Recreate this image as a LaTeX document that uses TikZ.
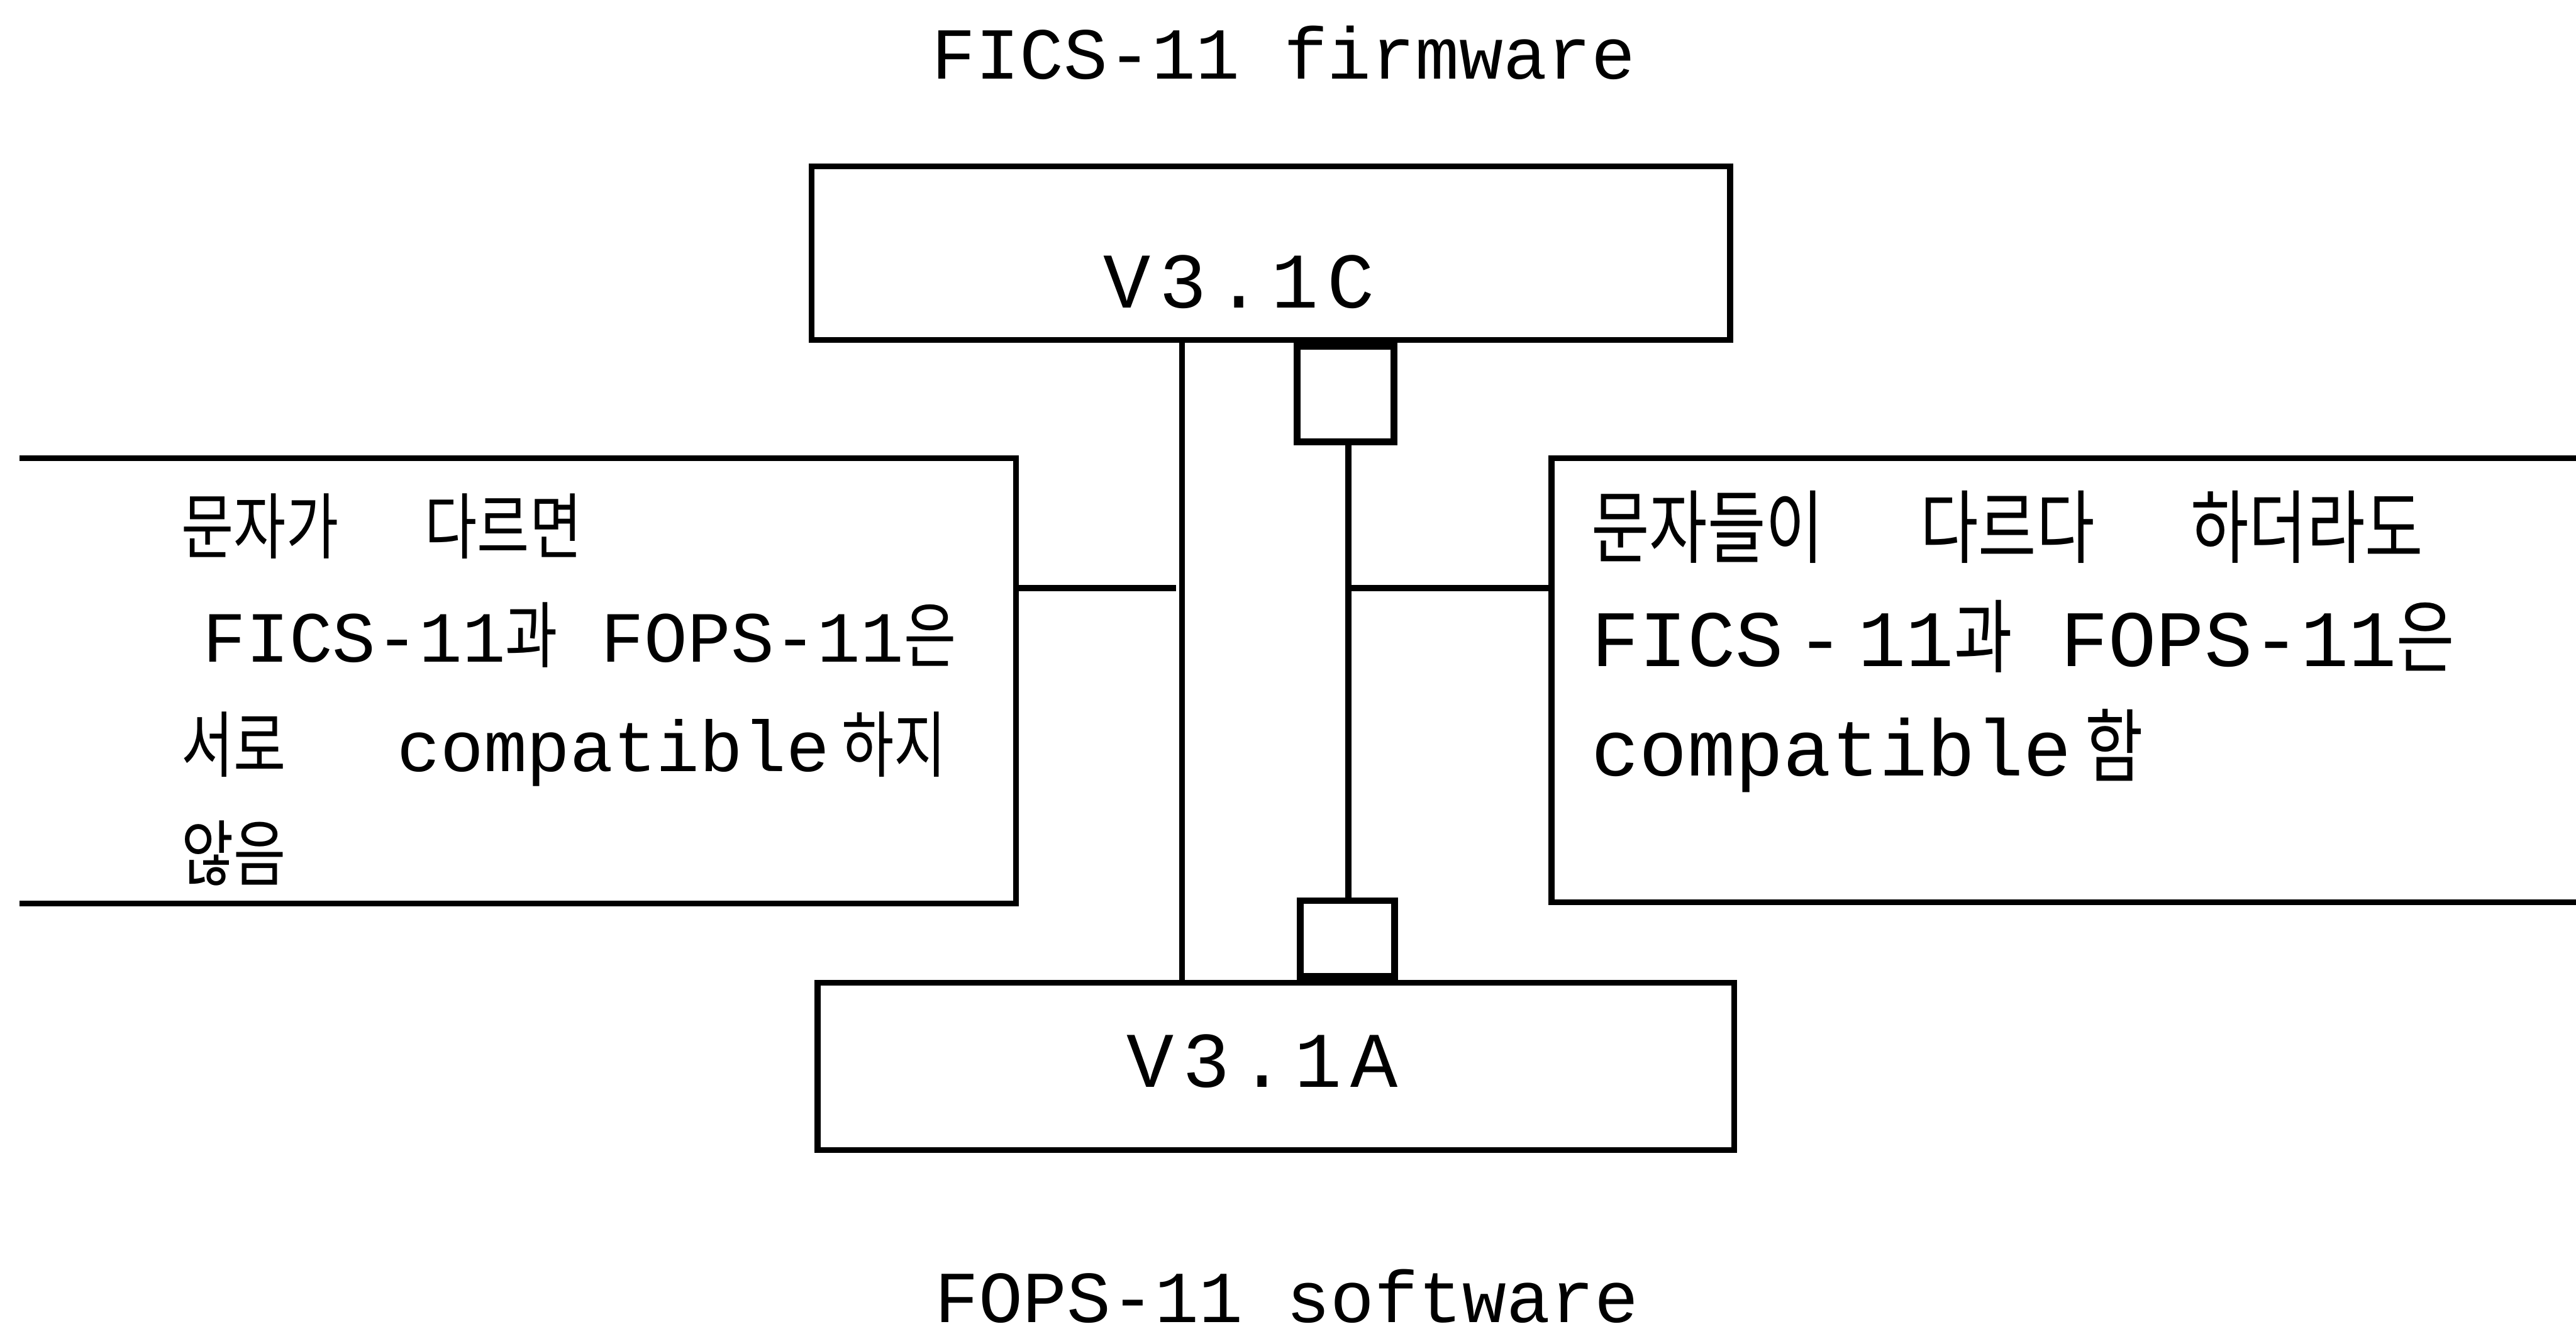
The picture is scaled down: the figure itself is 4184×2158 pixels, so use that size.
\documentclass[tikz,border=0pt]{standalone}
\usepackage{fontspec}
\setmainfont{Liberation Mono}
\newfontfamily\krfont[FakeStretch=0.79]{Noto Sans CJK KR}
\newcommand{\kr}[1]{{\krfont #1}}

\begin{document}
\begin{tikzpicture}[x=0.1pt,y=0.1pt,yscale=-1,line width=0.95pt,
	version/.style={draw, inner sep=0pt},
	port/.style={draw, line width=1.1pt, inner sep=0pt},
	caption/.style={font=\fontsize{11.9pt}{14pt}\selectfont, inner sep=0pt, anchor=base},
	vlabel/.style={font=\fontsize{12.8pt}{15pt}\selectfont\addfontfeature{LetterSpace=11}, inner sep=0pt, anchor=base},
	note/.style={align=left, inner sep=0pt, anchor=north west}]
\useasboundingbox (0,0) rectangle (4184,2158);

% Text Node
\node[caption] (fwcap) at (2085,128) {FICS-11 firmware};
% Text Node
\node[caption] (swcap) at (2090,2148) {FOPS-11 software};

%Shape: Rectangle
\node[version, minimum width=149.2pt, minimum height=28.2pt] (fw) at (2064,411) {};
\node[vlabel] (fwtxt) at (2012,500) {V3.1C};
%Shape: Rectangle
\node[version, minimum width=148.9pt, minimum height=27.2pt] (sw) at (2072.5,1732) {};
\node[vlabel] (swtxt) at (2050,1766) {V3.1A};

%Shape: Square
\node[port, anchor=north, minimum width=15.7pt, minimum height=15.5pt] (plugC) at ([xshift=12.15pt]fw.south) {};
%Shape: Square
\node[port, anchor=south, minimum width=15.3pt, minimum height=12.3pt] (plugA) at ([xshift=11.6pt]sw.north) {};

%Straight Lines
\coordinate (lv) at (1920,0);
\draw (fw.south -| lv) -- (sw.north -| lv);
%Straight Lines
\coordinate (rv) at (2190,720);
\draw (rv) -- (plugA.north -| rv);

%Shape: open boxes
\draw (32,744) -- (1650,744) -- (1650,1467) -- (32,1467);
\draw (4184,744) -- (2520,744) -- (2520,1465) -- (4184,1465);
\coordinate (ljoin) at (1650,955);
\coordinate (rjoin) at (2520,955);
%Straight Lines
\draw (ljoin) -- ([xshift=-1pt]ljoin -| lv);
\draw (ljoin -| rv) -- (rjoin);

% Text Node
\node[note, font=\fontsize{11.7pt}{17.7pt}\selectfont] (nomatch) at (290,797)
	{\kr{문자가}~~\kr{다르면}\\
	 \hspace*{3.5pt}FICS-11\kr{과}~FOPS-11\kr{은}\\
	 \kr{서로}~~\hspace{4pt}compatible\,\kr{하지}\\
	 \kr{않음}};
% Text Node
\node[note, font=\fontsize{13pt}{17.8pt}\selectfont] (match) at (2580,792)
	{\kr{문자들이}~~\kr{다르다}~~\kr{하더라도}\\
	 FICS\,-\,11\kr{과}~FOPS-11\kr{은}\\
	 compatible\,\kr{함}};

\end{tikzpicture}
\end{document}
